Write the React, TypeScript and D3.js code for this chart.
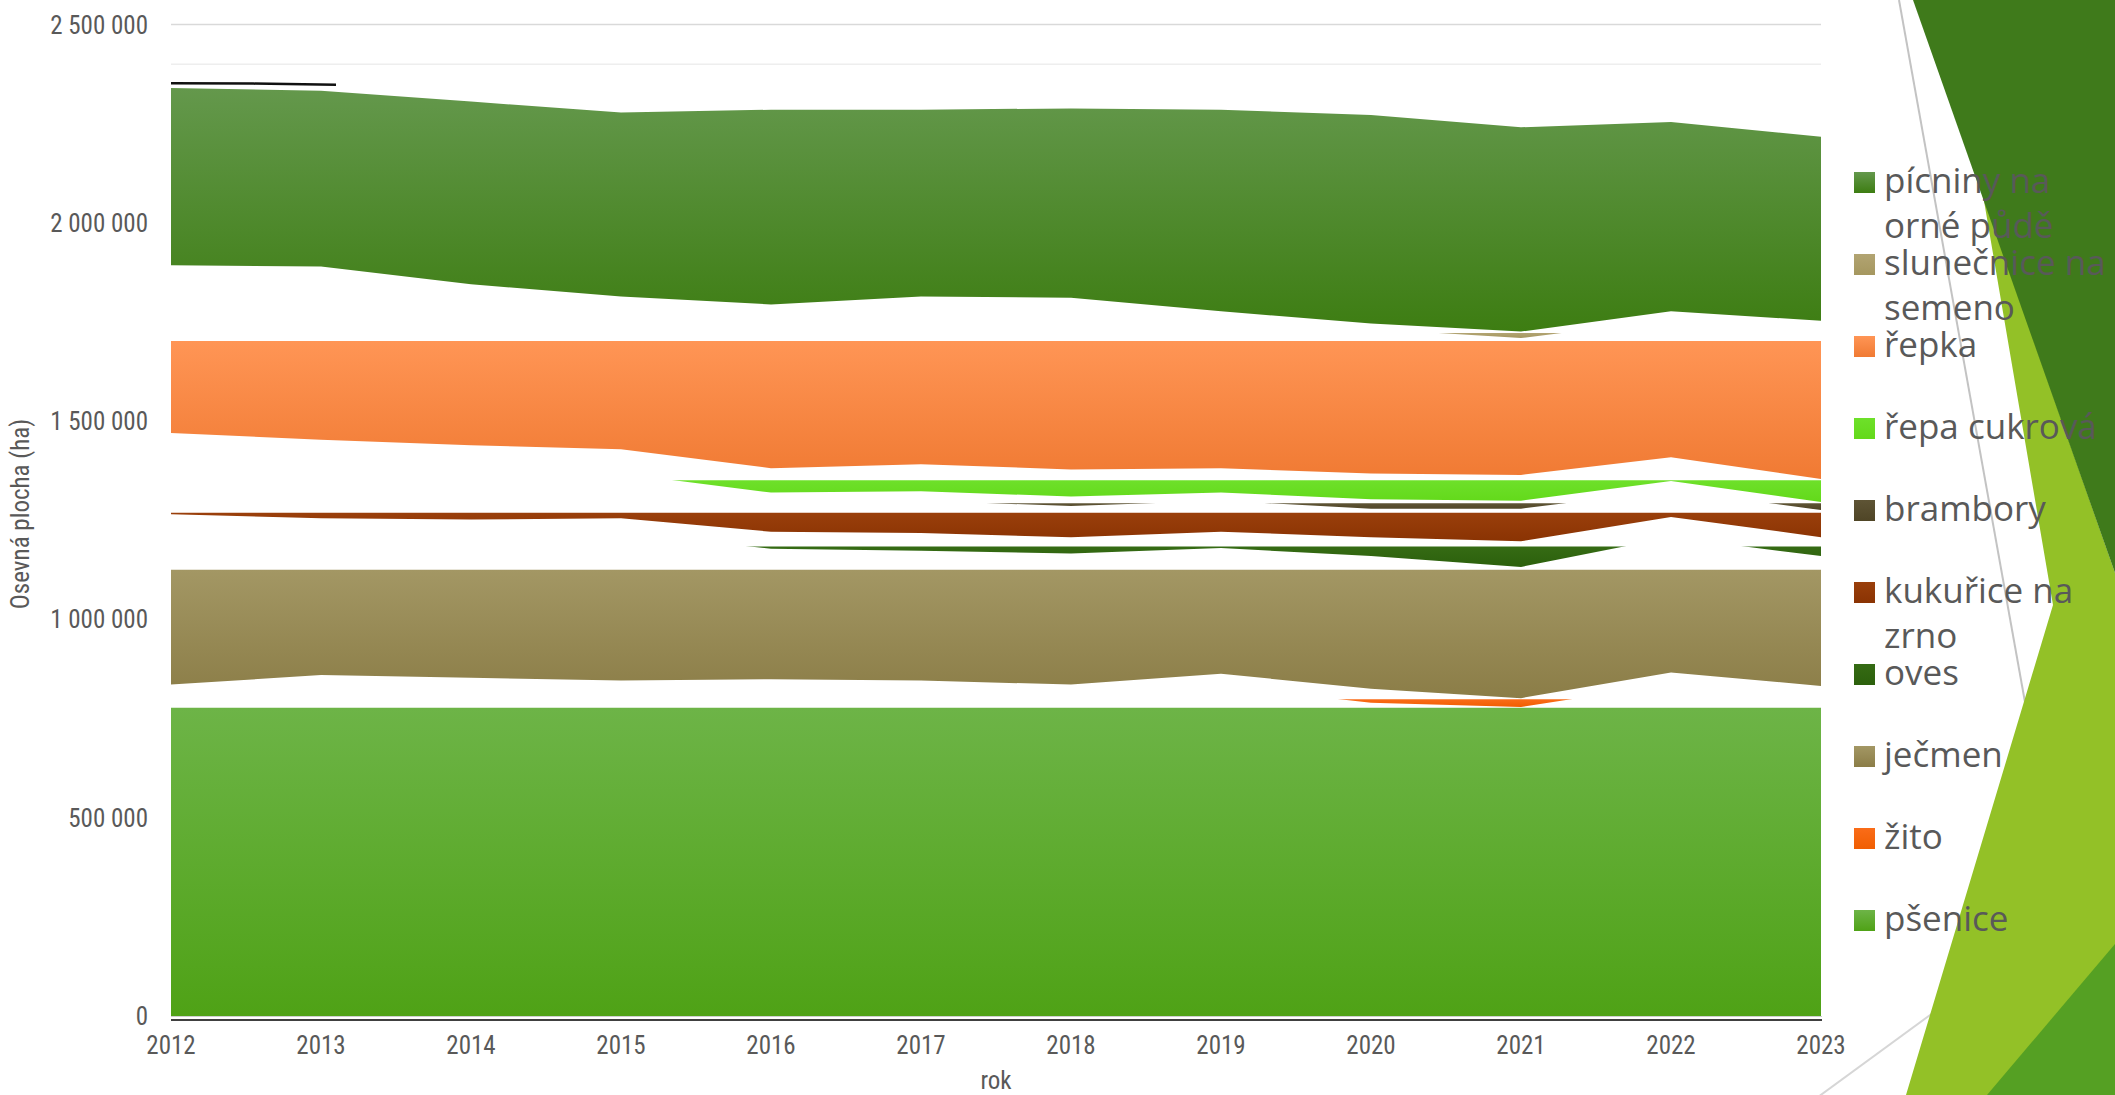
import React from "react";
import * as d3 from "d3";

const years = [2012, 2013, 2014, 2015, 2016, 2017, 2018, 2019, 2020, 2021, 2022, 2023];

const psenice = [808300, 828800, 821900, 815100, 818500, 815100, 804900, 832200, 789900, 779300, 837600, 801500];
const zito = [27300, 30700, 30800, 30700, 30700, 30700, 30700, 30700, 35500, 22200, 28700, 30700];
const jecmen = [388800, 354700, 358100, 371800, 329200, 327400, 330800, 317200, 334200, 330800, 341100, 327400];
const oves = [40900, 40900, 40900, 37500, 42600, 44400, 41000, 40900, 47800, 64800, 51100, 47800];
const kukurice = [119400, 112600, 102300, 88700, 75000, 81800, 78400, 78400, 71600, 81900, 68200, 68200];
const brambory = [23900, 23800, 23900, 23900, 23900, 23900, 23900, 20500, 23800, 20400, 22200, 20400];
const repaCukrova = [61400, 61400, 61400, 61300, 61400, 68200, 68200, 61400, 64900, 64800, 59700, 58000];
const repka = [405800, 419500, 388800, 368400, 395600, 405900, 416100, 378600, 364900, 345200, 347900, 382000];
const slunecnice = [17100, 17100, 17000, 17000, 17100, 17000, 17000, 17000, 13600, 16400, 20400, 17000];
const picniny = [446800, 443400, 460500, 463900, 491100, 470700, 477500, 508200, 525300, 515000, 477500, 463900];

const seriesKeys = ["pšenice", "žito", "ječmen", "oves", "kukuřice na zrno", "brambory", "řepa cukrová", "řepka", "slunečnice na semeno", "pícniny na orné půdě"];
const seriesValues = [psenice, zito, jecmen, oves, kukurice, brambory, repaCukrova, repka, slunecnice, picniny];
// value above which each series' gradient fill becomes transparent
const fillCutoff = [777000, 798400, 1125500, 1183500, 1268700, 1292600, 1350600, 1701900, 1722400, null];
const gradTop = ["#6db447", "#fa6c18", "#a39764", "#356b14", "#9a3f0b", "#5e5435", "#6ee02a", "#ff9555", "#b2a472", "#64984c"];
const gradBottom = ["#4fa216", "#f05e02", "#8b7d47", "#2c600c", "#8a3303", "#4f4526", "#63d91a", "#f07a33", "#a5975f", "#3d7d12"];
const legendLines = [["pšenice"], ["žito"], ["ječmen"], ["oves"], ["kukuřice na", "zrno"], ["brambory"], ["řepa cukrová"], ["řepka"], ["slunečnice na", "semeno"], ["pícniny na", "orné půdě"]];

const yTicks = [0, 500000, 1000000, 1500000, 2000000, 2500000];
const faintLine = 2400000;
const topMark = [
  { year: 2012, v: 2352000 },
  { year: 2012.55, v: 2351000 },
  { year: 2013.1, v: 2348000 },
];

const W = 2115, H = 1095;
const X0 = 171, X1 = 1821, Y0 = 1016, Y1 = 24.5;
const axisFont = "'Liberation Sans Narrow', 'Roboto Condensed', 'DejaVu Sans Condensed', Roboto, sans-serif";
const legendFont = "'Open Sans', 'Noto Sans', sans-serif";
const textColor = "#595959";

const fmt = (v: number) => d3.format(",")(v).replace(/,/g, " ");

export default function App() {
  const rows = years.map((yr, i) => {
    const r: any = { year: yr };
    seriesKeys.forEach((k, s) => (r[k] = seriesValues[s][i]));
    return r;
  });
  const stacked = d3.stack<any>().keys(seriesKeys)(rows);
  const x = d3.scaleLinear().domain([2012, 2023]).range([X0, X1]);
  const y = d3.scaleLinear().domain([0, 2500000]).range([Y0, Y1]);
  const area = d3
    .area<any>()
    .x((d) => x(d.data.year))
    .y0((d) => y(d[0]))
    .y1((d) => y(d[1]));
  const markLine = d3
    .line<any>()
    .x((d) => x(d.year))
    .y((d) => y(d.v));

  const fmtYear = d3.format("d");

  return (
    <svg width={W} height={H} style={{ position: "absolute", left: 0, top: 0, background: "#fff" }}>
      <defs>
        {stacked.map((s, i) => {
          const top = fillCutoff[i] ?? (d3.max(s, (d) => d[1]) as number);
          const bottom = d3.min(s, (d) => d[0]) as number;
          return (
            <linearGradient key={"g" + i} id={"g" + i} gradientUnits="userSpaceOnUse" x1={0} x2={0} y1={y(top)} y2={y(bottom)}>
              <stop offset="0" stopColor={gradTop[i]} />
              <stop offset="1" stopColor={gradBottom[i]} />
            </linearGradient>
          );
        })}
        {stacked.map((s, i) => (
          <linearGradient key={"lg" + i} id={"lg" + i} x1={0} x2={0} y1={0} y2={1}>
            <stop offset="0" stopColor={gradTop[i]} />
            <stop offset="1" stopColor={gradBottom[i]} />
          </linearGradient>
        ))}
        {fillCutoff.map((c, i) =>
          c == null ? null : (
            <clipPath key={"c" + i} id={"c" + i}>
              <rect x={X0 - 2} y={y(c)} width={X1 - X0 + 4} height={Y0 - y(c) + 2} />
            </clipPath>
          )
        )}
      </defs>

      {/* decorative theme shapes */}
      <line x1={1899} y1={0} x2={2030} y2={730} stroke="#c3c3c3" strokeWidth={2} />
      <line x1={1818} y1={1097} x2={2060} y2={920} stroke="#d6d6d6" strokeWidth={2} />
      <polygon points="1983,195 2115,573 2115,1095 1906,1095 2053,605" fill="#93c127" />
      <polygon points="1913,0 2115,0 2115,573" fill="#3f7a1b" />
      <polygon points="2115,944 2115,1095 1987,1095" fill="#55a023" />

      {/* gridlines */}
      {yTicks.map((t) => (
        <line key={"gl" + t} x1={X0} x2={X1} y1={y(t)} y2={y(t)} stroke="#d9d9d9" strokeWidth={1.5} />
      ))}
      <line x1={X0} x2={X1} y1={y(faintLine)} y2={y(faintLine)} stroke="#eeeeee" strokeWidth={1.5} />

      {/* stacked areas */}
      {stacked.map((s, i) => (
        <path
          key={"a" + i}
          d={area(s) as string}
          fill={`url(#g${i})`}
          clipPath={fillCutoff[i] == null ? undefined : `url(#c${i})`}
        />
      ))}
      <path d={markLine(topMark) as string} fill="none" stroke="#111" strokeWidth={2.5} />

      {/* axis line */}
      <line x1={X0} x2={X1 + 1} y1={Y0 + 0.5} y2={Y0 + 0.5} stroke="#d0d0d0" strokeWidth={1} />
      <line x1={X0} x2={X1 + 1} y1={Y0 + 4} y2={Y0 + 4} stroke="#000" strokeWidth={1.5} />

      {/* y tick labels */}
      {yTicks.map((t) => (
        <text key={"yl" + t} x={148} y={y(t)} dy="0.36em" textAnchor="end" fontFamily={axisFont} fontSize={25} fill={textColor}>
          {fmt(t)}
        </text>
      ))}
      {/* x tick labels */}
      {years.map((yr) => (
        <text key={"xl" + yr} x={x(yr)} y={1054} textAnchor="middle" fontFamily={axisFont} fontSize={25} fill={textColor}>
          {fmtYear(yr)}
        </text>
      ))}
      <text x={996} y={1089} textAnchor="middle" fontFamily={axisFont} fontSize={25} fill={textColor}>
        rok
      </text>
      <text
        transform={`translate(29, 514) rotate(-90)`}
        textAnchor="middle"
        fontFamily={axisFont}
        fontSize={25}
        fill={textColor}
      >
        Osevná plocha (ha)
      </text>

      {/* legend (top entry = last series) */}
      {seriesKeys
        .map((k, i) => i)
        .reverse()
        .map((si, row) => {
          const base = 193 + row * 82;
          return (
            <g key={"lgd" + si}>
              <rect x={1854} y={base - 21} width={21} height={21} fill={`url(#lg${si})`} />
              {legendLines[si].map((ln, li) => (
                <text key={li} x={1884} y={base + li * 45} fontFamily={legendFont} fontSize={35} fill={textColor}>
                  {ln}
                </text>
              ))}
            </g>
          );
        })}
    </svg>
  );
}
